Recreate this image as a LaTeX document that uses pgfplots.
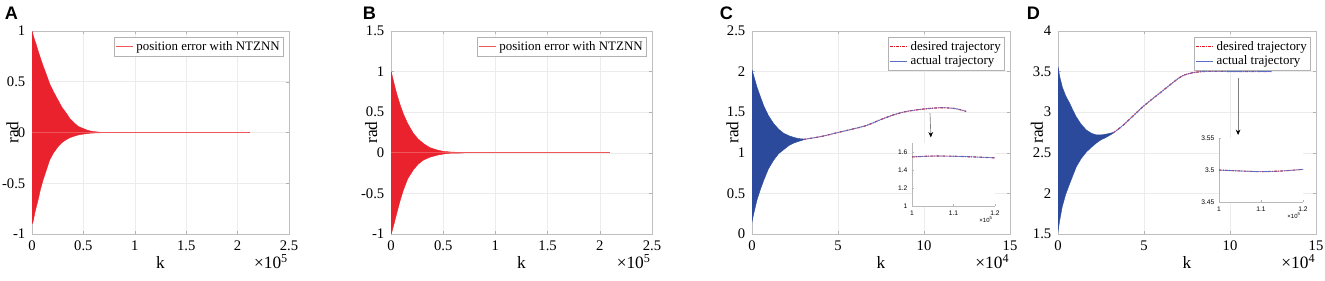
\documentclass[border=0pt]{standalone}
\usepackage{fontspec}
\setmainfont{Liberation Serif}
\newfontfamily\panelfont{Liberation Sans}
\newfontfamily\insetfont{Liberation Sans}
\usepackage{pgfplots}
\pgfplotsset{compat=1.18}
\usetikzlibrary{arrows.meta}
\definecolor{errred}{RGB}{234,34,45}
\definecolor{errline}{RGB}{240,85,90}
\definecolor{bandblue}{RGB}{44,74,156}
\definecolor{actblue}{RGB}{90,110,200}
\definecolor{desred}{RGB}{225,20,30}
\pgfplotsset{
  mainax/.style={
    scale only axis, height=152.25pt, anchor=south west,
    axis line style={gray!50}, tick style={gray!60}, major tick length=2.5pt,
    tick align=inside, grid=major, major grid style={gray!15, line width=0.4pt},
    ticklabel style={font=\fontsize{11}{13}\selectfont},
    xticklabel style={yshift=-1.5pt}, yticklabel style={xshift=-1.5pt},
    /pgf/number format/assume math mode=true,
    label style={font=\fontsize{13}{15}\selectfont},
    xlabel={k}, ylabel={rad},
    xlabel style={at={(axis description cs:0.5,-0.168)}, anchor=base},
    ylabel style={at={(axis description cs:-0.076,0.5)}, anchor=center},
    legend style={font=\fontsize{9.7}{11}\selectfont, draw=gray!60, at={(1,1)},
      anchor=north east, xshift=-3.75pt, yshift=-4.5pt, inner sep=1pt, row sep=-1.5pt},
    legend cell align=left,
    legend image code/.code={\draw[##1] (0pt,0pt) -- (13pt,0pt);},
    scaled ticks=false, no markers,
  },
  insetax/.style={
    scale only axis, anchor=south west,
    axis x line*=bottom, axis y line*=left,
    axis line style={gray!55}, tick style={gray!60}, major tick length=1.5pt,
    tick align=inside,
    axis background/.style={fill=white},
    ticklabel style={font=\insetfont\fontsize{5}{6}\selectfont},
    /pgf/number format/assume math mode=true,
    scaled ticks=false, no markers,
    xmin=1, xmax=1.2, xtick={1,1.1,1.2},
  }
}
\begin{document}
\begin{tikzpicture}
\path[use as bounding box] (0,0) rectangle (993.75pt,210pt);
% ---------- A ----------
\begin{axis}[mainax, at={(24pt,34.5pt)}, width=192.75pt,
  xmin=0, xmax=2.5, ymin=-1, ymax=1,
  xtick={0,0.5,1,1.5,2,2.5}, ytick={-1,-0.5,0,0.5,1}]
\addplot[fill=errred, draw=errred, line width=0.3pt, forget plot] coordinates {
 (0,1.0) (0.02,0.93) (0.04,0.87) (0.058,0.81) (0.08,0.74) (0.107,0.66) (0.14,0.57)
 (0.172,0.48) (0.21,0.40) (0.253,0.32) (0.29,0.25) (0.334,0.19) (0.37,0.135)
 (0.415,0.09) (0.45,0.06) (0.496,0.04) (0.54,0.022) (0.577,0.013) (0.62,0.007)
 (0.66,0.003) (0.75,0.001)
 (0.75,-0.001) (0.66,-0.003) (0.577,-0.006) (0.496,-0.016) (0.45,-0.024)
 (0.415,-0.035) (0.37,-0.05) (0.334,-0.07) (0.29,-0.1) (0.253,-0.14) (0.21,-0.2)
 (0.172,-0.27) (0.14,-0.37) (0.107,-0.47) (0.08,-0.57) (0.058,-0.67) (0.03,-0.78)
 (0.01,-0.88) (0,-0.9)} -- cycle;
\addplot[errline, line width=0.9pt] coordinates {(0,0) (2.12,0)};
\addlegendentry{position error with NTZNN}
\end{axis}
\node[anchor=base east, font=\fontsize{13}{15}\selectfont] at (219.5pt,9pt) {×10\textsuperscript{5}};
\node[font=\panelfont\bfseries\fontsize{13.6}{15}\selectfont] at (8.6pt,199.9pt) {A};
% ---------- B ----------
\begin{axis}[mainax, at={(293.25pt,34.5pt)}, width=195.75pt,
  xmin=0, xmax=2.5, ymin=-1, ymax=1.5,
  xtick={0,0.5,1,1.5,2,2.5}, ytick={-1,-0.5,0,0.5,1,1.5}]
\addplot[fill=errred, draw=errred, line width=0.3pt, forget plot] coordinates {
 (0,1.0) (0.006,0.98) (0.03,0.85) (0.054,0.73) (0.085,0.6) (0.118,0.48) (0.16,0.36)
 (0.214,0.24) (0.26,0.17) (0.31,0.115) (0.37,0.065) (0.44,0.035) (0.5,0.018)
 (0.57,0.01) (0.7,0.002)
 (0.7,-0.002) (0.57,-0.005) (0.5,-0.015) (0.44,-0.03) (0.37,-0.055) (0.31,-0.09)
 (0.26,-0.14) (0.214,-0.21) (0.16,-0.32) (0.118,-0.46) (0.085,-0.6) (0.054,-0.75)
 (0.03,-0.87) (0.005,-0.99) (0,-1.0)} -- cycle;
\addplot[errline, line width=0.9pt] coordinates {(0,0) (2.1,0)};
\addlegendentry{position error with NTZNN}
\end{axis}
\node[anchor=base east, font=\fontsize{13}{15}\selectfont] at (491.5pt,9pt) {×10\textsuperscript{5}};
\node[font=\panelfont\bfseries\fontsize{13.6}{15}\selectfont] at (277.1pt,199.9pt) {B};
% ---------- C ----------
\begin{axis}[mainax, at={(564pt,34.5pt)}, width=193.5pt,
  xmin=0, xmax=15, ymin=0, ymax=2.5,
  xtick={0,5,10,15}, ytick={0,0.5,1,1.5,2,2.5}]
\addplot[fill=bandblue, draw=bandblue, line width=0.3pt, forget plot] coordinates {
 (0,2.02) (0.1,1.95) (0.29,1.81) (0.49,1.69) (0.68,1.58) (0.95,1.46) (1.26,1.36)
 (1.55,1.29) (1.85,1.24) (2.15,1.21) (2.43,1.19) (2.7,1.175) (3.0,1.17)
 (3.0,1.16) (2.7,1.14) (2.43,1.12) (2.15,1.09) (1.85,1.04) (1.55,0.99) (1.26,0.91)
 (0.95,0.8) (0.68,0.66) (0.49,0.55) (0.29,0.42) (0.1,0.25) (0,0.15)} -- cycle;
\addplot[desred, smooth, line width=0.9pt, dash pattern=on 2pt off 1pt on 0.6pt off 1pt] coordinates {
 (3.0,1.165) (4,1.2) (5,1.25) (6,1.3) (6.7,1.34) (7.5,1.41) (8.27,1.47) (9,1.51)
 (10,1.54) (11,1.555) (11.8,1.545) (12.45,1.51)};
\addlegendentry{desired trajectory}
\addplot[actblue, smooth, line width=0.5pt] coordinates {
 (3.0,1.165) (4,1.2) (5,1.25) (6,1.3) (6.7,1.34) (7.5,1.41) (8.27,1.47) (9,1.51)
 (10,1.54) (11,1.555) (11.8,1.545) (12.45,1.51)};
\addlegendentry{actual trajectory}
\draw[gray, line width=0.5pt, -{Stealth[black, length=4pt, width=3.5pt]}] (axis cs:10.35,1.49) -- (axis cs:10.4,1.19);
\end{axis}
\node[anchor=base east, font=\fontsize{13}{15}\selectfont] at (760.5pt,9pt) {×10\textsuperscript{4}};
\node[font=\panelfont\bfseries\fontsize{13.6}{15}\selectfont] at (544.9pt,199.9pt) {C};
\begin{axis}[insetax, at={(684pt,55.5pt)}, width=62.25pt, height=47.25pt,
  ymin=1, ymax=1.7, ytick={1,1.2,1.4,1.6}]
\addplot[desred, smooth, line width=0.8pt, dash pattern=on 2pt off 1pt on 0.6pt off 1pt] coordinates {
 (1.0,1.545) (1.05,1.555) (1.1,1.553) (1.15,1.545) (1.2,1.535)};
\addplot[actblue, smooth, line width=0.5pt] coordinates {
 (1.0,1.545) (1.05,1.555) (1.1,1.553) (1.15,1.545) (1.2,1.535)};
\end{axis}
\node[anchor=base east, font=\insetfont\fontsize{4.5}{5}\selectfont] at (748pt,43pt) {×10\textsuperscript{5}};
% ---------- D ----------
\begin{axis}[mainax, at={(793.5pt,34.5pt)}, width=193.5pt,
  xmin=0, xmax=15, ymin=1.5, ymax=4,
  xtick={0,5,10,15}, ytick={1.5,2,2.5,3,3.5,4},
  ylabel style={at={(axis description cs:-0.082,0.5)}}]
\addplot[fill=bandblue, draw=bandblue, line width=0.3pt, forget plot] coordinates {
 (0,3.56) (0.1,3.44) (0.25,3.31) (0.45,3.2) (0.68,3.11) (0.9,3.01) (1.07,2.94)
 (1.35,2.85) (1.65,2.78) (1.95,2.74) (2.23,2.72) (2.5,2.72) (2.8,2.73) (3.2,2.75)
 (3.2,2.74) (2.8,2.69) (2.5,2.66) (2.23,2.62) (1.95,2.57) (1.65,2.51) (1.35,2.43)
 (1.07,2.33) (0.9,2.24) (0.68,2.12) (0.45,1.99) (0.25,1.84) (0.1,1.67) (0,1.53)} -- cycle;
\addplot[desred, smooth, line width=0.9pt, dash pattern=on 2pt off 1pt on 0.6pt off 1pt] coordinates {
 (3.2,2.745) (3.79,2.84) (4.95,3.07) (6.12,3.27) (7.09,3.43) (7.6,3.475) (8.1,3.495)
 (8.64,3.503) (9.6,3.503) (10.8,3.5) (12.4,3.501)};
\addlegendentry{desired trajectory}
\addplot[actblue, smooth, line width=0.5pt] coordinates {
 (3.2,2.745) (3.79,2.84) (4.95,3.07) (6.12,3.27) (7.09,3.43) (7.6,3.475) (8.1,3.495)
 (8.64,3.503) (9.6,3.503) (10.8,3.5) (12.4,3.501)};
\addlegendentry{actual trajectory}
\draw[gray, line width=0.5pt, -{Stealth[black, length=4pt, width=3.5pt]}] (axis cs:10.47,3.42) -- (axis cs:10.47,2.72);
\end{axis}
\node[anchor=base east, font=\fontsize{13}{15}\selectfont] at (990pt,9pt) {×10\textsuperscript{4}};
\node[font=\panelfont\bfseries\fontsize{13.6}{15}\selectfont] at (775.1pt,199.9pt) {D};
\begin{axis}[insetax, at={(914.25pt,58.5pt)}, width=63pt, height=48pt,
  ymin=3.45, ymax=3.55, ytick={3.45,3.5,3.55}]
\addplot[desred, smooth, line width=0.8pt, dash pattern=on 2pt off 1pt on 0.6pt off 1pt] coordinates {
 (1.0,3.5) (1.05,3.4985) (1.1,3.4975) (1.15,3.4985) (1.2,3.501)};
\addplot[actblue, smooth, line width=0.5pt] coordinates {
 (1.0,3.5) (1.05,3.4985) (1.1,3.4975) (1.15,3.4985) (1.2,3.501)};
\end{axis}
\node[anchor=base east, font=\insetfont\fontsize{4.5}{5}\selectfont] at (979pt,46pt) {×10\textsuperscript{5}};
\end{tikzpicture}
\end{document}
